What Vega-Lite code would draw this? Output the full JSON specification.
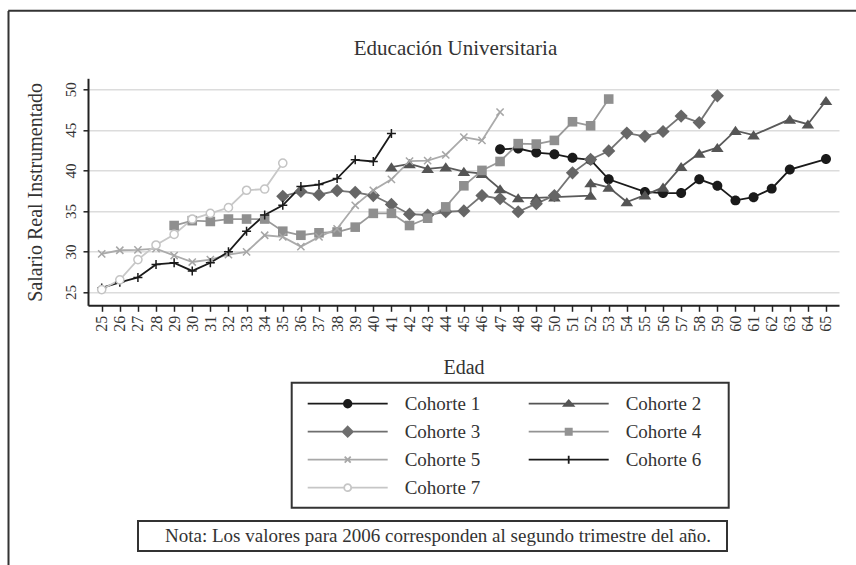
{
  "$schema": "https://vega.github.io/schema/vega-lite/v6.json",
  "width": 751,
  "height": 227,
  "autosize": {"type": "none"},
  "padding": {"left": 88, "top": 78.3, "right": 22, "bottom": 259.7},
  "background": "white",
  "config": {
    "view": {"stroke": null},
    "font": "Liberation Serif",
    "legend": {"strokeWidth": 2},
    "axis": {"labelFont": "Liberation Serif", "titleFont": "Liberation Serif"}
  },
  "data": {"values": [
    {"c":"Cohorte 1","age":47,"v":42.6,"i":1},{"c":"Cohorte 1","age":48,"v":42.7,"i":2},{"c":"Cohorte 1","age":49,"v":42.2,"i":3},{"c":"Cohorte 1","age":50,"v":42.0,"i":4},{"c":"Cohorte 1","age":51,"v":41.55,"i":5},{"c":"Cohorte 1","age":52,"v":41.3,"i":6},{"c":"Cohorte 1","age":53,"v":38.9,"i":7},{"c":"Cohorte 1","age":55,"v":37.35,"i":8},{"c":"Cohorte 1","age":56,"v":37.2,"i":9},{"c":"Cohorte 1","age":57,"v":37.2,"i":10},{"c":"Cohorte 1","age":58,"v":38.9,"i":11},{"c":"Cohorte 1","age":59,"v":38.1,"i":12},{"c":"Cohorte 1","age":60,"v":36.3,"i":13},{"c":"Cohorte 1","age":61,"v":36.7,"i":14},{"c":"Cohorte 1","age":62,"v":37.75,"i":15},{"c":"Cohorte 1","age":63,"v":40.1,"i":16},{"c":"Cohorte 1","age":65,"v":41.4,"i":17},
    {"c":"Cohorte 2","age":41,"v":40.4,"i":1},{"c":"Cohorte 2","age":42,"v":40.8,"i":2},{"c":"Cohorte 2","age":43,"v":40.2,"i":3},{"c":"Cohorte 2","age":44,"v":40.4,"i":4},{"c":"Cohorte 2","age":45,"v":39.85,"i":5},{"c":"Cohorte 2","age":46,"v":39.6,"i":6},{"c":"Cohorte 2","age":47,"v":37.7,"i":7},{"c":"Cohorte 2","age":48,"v":36.6,"i":8},{"c":"Cohorte 2","age":49,"v":36.6,"i":9},{"c":"Cohorte 2","age":50,"v":36.7,"i":10},{"c":"Cohorte 2","age":52,"v":36.9,"i":11},{"c":"Cohorte 2","age":52,"v":38.45,"i":12},{"c":"Cohorte 2","age":53,"v":37.9,"i":13},{"c":"Cohorte 2","age":54,"v":36.1,"i":14},{"c":"Cohorte 2","age":55,"v":36.95,"i":15},{"c":"Cohorte 2","age":56,"v":37.9,"i":16},{"c":"Cohorte 2","age":57,"v":40.45,"i":17},{"c":"Cohorte 2","age":58,"v":42.1,"i":18},{"c":"Cohorte 2","age":59,"v":42.8,"i":19},{"c":"Cohorte 2","age":60,"v":44.9,"i":20},{"c":"Cohorte 2","age":61,"v":44.35,"i":21},{"c":"Cohorte 2","age":63,"v":46.3,"i":22},{"c":"Cohorte 2","age":64,"v":45.7,"i":23},{"c":"Cohorte 2","age":65,"v":48.6,"i":24},
    {"c":"Cohorte 3","age":35,"v":36.8,"i":1},{"c":"Cohorte 3","age":36,"v":37.4,"i":2},{"c":"Cohorte 3","age":37,"v":37.0,"i":3},{"c":"Cohorte 3","age":38,"v":37.5,"i":4},{"c":"Cohorte 3","age":39,"v":37.3,"i":5},{"c":"Cohorte 3","age":40,"v":36.9,"i":6},{"c":"Cohorte 3","age":41,"v":35.8,"i":7},{"c":"Cohorte 3","age":42,"v":34.6,"i":8},{"c":"Cohorte 3","age":43,"v":34.5,"i":9},{"c":"Cohorte 3","age":44,"v":34.9,"i":10},{"c":"Cohorte 3","age":45,"v":35.0,"i":11},{"c":"Cohorte 3","age":46,"v":36.9,"i":12},{"c":"Cohorte 3","age":47,"v":36.5,"i":13},{"c":"Cohorte 3","age":48,"v":34.9,"i":14},{"c":"Cohorte 3","age":49,"v":35.9,"i":15},{"c":"Cohorte 3","age":50,"v":36.9,"i":16},{"c":"Cohorte 3","age":51,"v":39.7,"i":17},{"c":"Cohorte 3","age":52,"v":41.35,"i":18},{"c":"Cohorte 3","age":53,"v":42.4,"i":19},{"c":"Cohorte 3","age":54,"v":44.6,"i":20},{"c":"Cohorte 3","age":55,"v":44.2,"i":21},{"c":"Cohorte 3","age":56,"v":44.8,"i":22},{"c":"Cohorte 3","age":57,"v":46.7,"i":23},{"c":"Cohorte 3","age":58,"v":45.9,"i":24},{"c":"Cohorte 3","age":59,"v":49.2,"i":25},
    {"c":"Cohorte 4","age":29,"v":33.2,"i":1},{"c":"Cohorte 4","age":30,"v":33.8,"i":2},{"c":"Cohorte 4","age":31,"v":33.7,"i":3},{"c":"Cohorte 4","age":32,"v":34.0,"i":4},{"c":"Cohorte 4","age":33,"v":34.0,"i":5},{"c":"Cohorte 4","age":34,"v":34.0,"i":6},{"c":"Cohorte 4","age":35,"v":32.5,"i":7},{"c":"Cohorte 4","age":36,"v":32.0,"i":8},{"c":"Cohorte 4","age":37,"v":32.3,"i":9},{"c":"Cohorte 4","age":38,"v":32.4,"i":10},{"c":"Cohorte 4","age":39,"v":33.0,"i":11},{"c":"Cohorte 4","age":40,"v":34.7,"i":12},{"c":"Cohorte 4","age":41,"v":34.7,"i":13},{"c":"Cohorte 4","age":42,"v":33.2,"i":14},{"c":"Cohorte 4","age":43,"v":34.1,"i":15},{"c":"Cohorte 4","age":44,"v":35.5,"i":16},{"c":"Cohorte 4","age":45,"v":38.1,"i":17},{"c":"Cohorte 4","age":46,"v":40.0,"i":18},{"c":"Cohorte 4","age":47,"v":41.1,"i":19},{"c":"Cohorte 4","age":48,"v":43.3,"i":20},{"c":"Cohorte 4","age":49,"v":43.25,"i":21},{"c":"Cohorte 4","age":50,"v":43.7,"i":22},{"c":"Cohorte 4","age":51,"v":46.0,"i":23},{"c":"Cohorte 4","age":52,"v":45.5,"i":24},{"c":"Cohorte 4","age":53,"v":48.8,"i":25},
    {"c":"Cohorte 5","age":25,"v":29.7,"i":1},{"c":"Cohorte 5","age":26,"v":30.15,"i":2},{"c":"Cohorte 5","age":27,"v":30.2,"i":3},{"c":"Cohorte 5","age":28,"v":30.35,"i":4},{"c":"Cohorte 5","age":29,"v":29.5,"i":5},{"c":"Cohorte 5","age":30,"v":28.7,"i":6},{"c":"Cohorte 5","age":31,"v":29.0,"i":7},{"c":"Cohorte 5","age":32,"v":29.6,"i":8},{"c":"Cohorte 5","age":33,"v":29.95,"i":9},{"c":"Cohorte 5","age":34,"v":32.0,"i":10},{"c":"Cohorte 5","age":35,"v":31.8,"i":11},{"c":"Cohorte 5","age":36,"v":30.6,"i":12},{"c":"Cohorte 5","age":37,"v":31.8,"i":13},{"c":"Cohorte 5","age":38,"v":32.8,"i":14},{"c":"Cohorte 5","age":39,"v":35.7,"i":15},{"c":"Cohorte 5","age":40,"v":37.55,"i":16},{"c":"Cohorte 5","age":41,"v":38.9,"i":17},{"c":"Cohorte 5","age":42,"v":41.15,"i":18},{"c":"Cohorte 5","age":43,"v":41.2,"i":19},{"c":"Cohorte 5","age":44,"v":41.9,"i":20},{"c":"Cohorte 5","age":45,"v":44.1,"i":21},{"c":"Cohorte 5","age":46,"v":43.7,"i":22},{"c":"Cohorte 5","age":47,"v":47.2,"i":23},
    {"c":"Cohorte 6","age":25,"v":25.5,"i":1},{"c":"Cohorte 6","age":26,"v":26.2,"i":2},{"c":"Cohorte 6","age":27,"v":26.8,"i":3},{"c":"Cohorte 6","age":28,"v":28.4,"i":4},{"c":"Cohorte 6","age":29,"v":28.6,"i":5},{"c":"Cohorte 6","age":30,"v":27.6,"i":6},{"c":"Cohorte 6","age":31,"v":28.6,"i":7},{"c":"Cohorte 6","age":32,"v":29.95,"i":8},{"c":"Cohorte 6","age":33,"v":32.5,"i":9},{"c":"Cohorte 6","age":34,"v":34.5,"i":10},{"c":"Cohorte 6","age":35,"v":35.7,"i":11},{"c":"Cohorte 6","age":36,"v":38.0,"i":12},{"c":"Cohorte 6","age":37,"v":38.25,"i":13},{"c":"Cohorte 6","age":38,"v":39.0,"i":14},{"c":"Cohorte 6","age":39,"v":41.3,"i":15},{"c":"Cohorte 6","age":40,"v":41.1,"i":16},{"c":"Cohorte 6","age":41,"v":44.55,"i":17},
    {"c":"Cohorte 7","age":25,"v":25.3,"i":1},{"c":"Cohorte 7","age":26,"v":26.5,"i":2},{"c":"Cohorte 7","age":27,"v":29.0,"i":3},{"c":"Cohorte 7","age":28,"v":30.8,"i":4},{"c":"Cohorte 7","age":29,"v":32.1,"i":5},{"c":"Cohorte 7","age":30,"v":34.0,"i":6},{"c":"Cohorte 7","age":31,"v":34.7,"i":7},{"c":"Cohorte 7","age":32,"v":35.4,"i":8},{"c":"Cohorte 7","age":33,"v":37.55,"i":9},{"c":"Cohorte 7","age":34,"v":37.7,"i":10},{"c":"Cohorte 7","age":35,"v":40.9,"i":11}
  ]},
  "resolve": {
    "scale": {"shape": "independent", "color": "independent"},
    "legend": {"shape": "independent", "color": "independent"},
    "axis": {"x": "independent", "y": "independent"}
  },
  "layer": [
    {
      "mark": {"type": "line", "strokeWidth": 1.8},
      "encoding": {
        "x": {"field": "age", "type": "quantitative", "scale": {"domain": [24.243, 65.718], "nice": false, "zero": false},
          "axis": {"values": [25,26,27,28,29,30,31,32,33,34,35,36,37,38,39,40,41,42,43,44,45,46,47,48,49,50,51,52,53,54,55,56,57,58,59,60,61,62,63,64,65], "format": "d", "labelAngle": -90, "labelFontSize": 16, "labelColor": "#333333", "labelPadding": 4, "labelFlush": false, "labelOverlap": false, "labelBound": false, "tickSize": 6, "tickColor": "#222222", "tickWidth": 1.5, "domainColor": "#222222", "domainWidth": 2, "grid": false, "title": "Edad", "titleFontSize": 20, "titleFontWeight": "normal", "titleColor": "#333333", "titlePadding": 26}},
        "y": {"field": "v", "type": "quantitative", "scale": {"domain": [23.36, 51.36], "nice": false, "zero": false},
          "axis": {"values": [25,30,35,40,45,50], "labelAngle": -90, "labelFontSize": 15, "labelColor": "#333333", "labelPadding": 5, "tickSize": 5, "tickColor": "#222222", "tickWidth": 1.5, "domainColor": "#222222", "domainWidth": 2, "grid": true, "gridColor": "#dcdcdc", "gridWidth": 1.5, "title": "Salario Real Instrumentado", "titleFontSize": 20, "titleFontWeight": "normal", "titleColor": "#333333", "titlePadding": 18}},
        "color": {"field": "c", "type": "nominal", "scale": {"domain": ["Cohorte 1","Cohorte 2","Cohorte 3","Cohorte 4","Cohorte 5","Cohorte 6","Cohorte 7"], "range": ["#1a1a1a","#5a5a5a","#747474","#999999","#ababab","#1a1a1a","#c8c8c8"]}, "legend": null},
        "order": {"field": "i", "type": "quantitative"}
      }
    },
    {
      "transform": [{"filter": {"field": "c", "oneOf": ["Cohorte 1","Cohorte 2","Cohorte 3","Cohorte 4"]}}],
      "mark": {"type": "point", "filled": true, "opacity": 1, "size": 144, "strokeWidth": 0},
      "encoding": {
        "x": {"field": "age", "type": "quantitative", "axis": null},
        "y": {"field": "v", "type": "quantitative", "axis": null},
        "color": {"field": "c", "type": "nominal", "scale": {"domain": ["Cohorte 1","Cohorte 2","Cohorte 3","Cohorte 4","Cohorte 5","Cohorte 6","Cohorte 7"], "range": ["#1a1a1a","#555555","#666666","#8f8f8f","#a6a6a6","#1a1a1a","#c4c4c4"]}, "legend": null},
        "shape": {"field": "c", "type": "nominal", "scale": {"domain": ["Cohorte 1","Cohorte 2","Cohorte 3","Cohorte 4","Cohorte 5","Cohorte 6","Cohorte 7"], "range": ["M0.83,0A0.83,0.83,0,1,1,-0.83,0A0.83,0.83,0,1,1,0.83,0Z","M0,-0.8L1.05,0.72L-1.05,0.72Z","M0,-1.1L1.1,0L0,1.1L-1.1,0Z","M-0.8,-0.8L0.8,-0.8L0.8,0.8L-0.8,0.8Z","M-0.6,-0.6L0.6,0.6M-0.6,0.6L0.6,-0.6","M-0.75,0L0.75,0M0,-0.75L0,0.75","M0.68,0A0.68,0.68,0,1,1,-0.68,0A0.68,0.68,0,1,1,0.68,0Z"]}, "legend": null}
      }
    },
    {
      "transform": [{"filter": {"field": "c", "oneOf": ["Cohorte 5","Cohorte 6"]}}],
      "mark": {"type": "point", "filled": false, "opacity": 1, "size": 144, "strokeWidth": 1.5},
      "encoding": {
        "x": {"field": "age", "type": "quantitative", "axis": null},
        "y": {"field": "v", "type": "quantitative", "axis": null},
        "color": {"field": "c", "type": "nominal", "scale": {"domain": ["Cohorte 1","Cohorte 2","Cohorte 3","Cohorte 4","Cohorte 5","Cohorte 6","Cohorte 7"], "range": ["#1a1a1a","#555555","#666666","#8f8f8f","#a6a6a6","#1a1a1a","#c4c4c4"]}, "legend": null},
        "shape": {"field": "c", "type": "nominal", "scale": {"domain": ["Cohorte 1","Cohorte 2","Cohorte 3","Cohorte 4","Cohorte 5","Cohorte 6","Cohorte 7"], "range": ["M0.83,0A0.83,0.83,0,1,1,-0.83,0A0.83,0.83,0,1,1,0.83,0Z","M0,-0.8L1.05,0.72L-1.05,0.72Z","M0,-1.1L1.1,0L0,1.1L-1.1,0Z","M-0.8,-0.8L0.8,-0.8L0.8,0.8L-0.8,0.8Z","M-0.6,-0.6L0.6,0.6M-0.6,0.6L0.6,-0.6","M-0.75,0L0.75,0M0,-0.75L0,0.75","M0.68,0A0.68,0.68,0,1,1,-0.68,0A0.68,0.68,0,1,1,0.68,0Z"]}, "legend": null}
      }
    },
    {
      "transform": [{"filter": {"field": "c", "oneOf": ["Cohorte 7"]}}],
      "mark": {"type": "point", "filled": false, "fill": "white", "fillOpacity": 1, "opacity": 1, "size": 144, "strokeWidth": 1.5},
      "encoding": {
        "x": {"field": "age", "type": "quantitative", "axis": null},
        "y": {"field": "v", "type": "quantitative", "axis": null},
        "color": {"field": "c", "type": "nominal", "scale": {"domain": ["Cohorte 1","Cohorte 2","Cohorte 3","Cohorte 4","Cohorte 5","Cohorte 6","Cohorte 7"], "range": ["#1a1a1a","#555555","#666666","#8f8f8f","#a6a6a6","#1a1a1a","#c4c4c4"]}, "legend": null},
        "shape": {"field": "c", "type": "nominal", "scale": {"domain": ["Cohorte 1","Cohorte 2","Cohorte 3","Cohorte 4","Cohorte 5","Cohorte 6","Cohorte 7"], "range": ["M0.83,0A0.83,0.83,0,1,1,-0.83,0A0.83,0.83,0,1,1,0.83,0Z","M0,-0.8L1.05,0.72L-1.05,0.72Z","M0,-1.1L1.1,0L0,1.1L-1.1,0Z","M-0.8,-0.8L0.8,-0.8L0.8,0.8L-0.8,0.8Z","M-0.6,-0.6L0.6,0.6M-0.6,0.6L0.6,-0.6","M-0.75,0L0.75,0M0,-0.75L0,0.75","M0.68,0A0.68,0.68,0,1,1,-0.68,0A0.68,0.68,0,1,1,0.68,0Z"]}, "legend": null}
      }
    },
    {
      "mark": {"type": "point", "filled": false, "opacity": 0, "size": 10, "strokeWidth": 1.8},
      "encoding": {
        "x": {"field": "age", "type": "quantitative",
          "axis": {"orient": "top", "offset": 67.8, "domain": false, "labels": false, "grid": false, "ticks": true, "values": [24.3], "tickOffset": -81, "tickSize": -556, "tickWidth": 2, "tickColor": "#333333", "title": "Educación Universitaria", "titleFontSize": 21, "titleFontWeight": "normal", "titleColor": "#333333", "titleX": 367, "titleY": 43.8, "titleBaseline": "alphabetic", "titleAlign": "center", "titleAngle": 0}},
        "y": {"field": "v", "type": "quantitative",
          "axis": {"orient": "left", "offset": 80.3, "domain": false, "labels": false, "grid": false, "ticks": true, "values": [51.3], "tickOffset": -68.3, "tickSize": -850, "tickWidth": 2, "tickColor": "#333333", "title": null}},
        "color": {"field": "c", "type": "nominal", "scale": {"domain": ["Cohorte 1","Cohorte 2","Cohorte 3","Cohorte 4","Cohorte 5","Cohorte 6","Cohorte 7"], "range": ["#1a1a1a","#555555","#6e6e6e","#939393","#a8a8a8","#1a1a1a","#c6c6c6"]},
          "legend": {"title": null, "orient": "none", "legendX": 203.7, "legendY": 304.4, "direction": "horizontal", "columns": 2, "symbolSize": 400, "symbolStrokeWidth": 1.8, "symbolOpacity": 1, "labelFont": "Liberation Serif", "labelFontSize": 19, "labelColor": "#333333", "labelOffset": 81, "columnPadding": 25, "rowPadding": 7, "padding": 10, "strokeColor": "#333333"}},
        "shape": {"field": "c", "type": "nominal", "scale": {"domain": ["Cohorte 1","Cohorte 2","Cohorte 3","Cohorte 4","Cohorte 5","Cohorte 6","Cohorte 7"], "range": [
            "M-0.5,0L7.5,0M3.88,0A0.38,0.38,0,1,1,3.12,0A0.38,0.38,0,1,1,3.88,0M3.74,0A0.24,0.24,0,1,1,3.26,0A0.24,0.24,0,1,1,3.74,0M3.6,0A0.1,0.1,0,1,1,3.4,0A0.1,0.1,0,1,1,3.6,0M18.1,0L18.1,0",
            "M-0.5,0L7.5,0M3.5,-0.34L3.98,0.22L3.02,0.22ZM3.5,-0.15L3.74,0.13L3.26,0.13ZM3.46,0.04L3.54,0.04M18.1,0L18.1,0",
            "M-0.5,0L7.5,0M3.5,-0.51L4.01,0L3.5,0.51L2.99,0ZM3.5,-0.36L3.86,0L3.5,0.36L3.14,0ZM3.5,-0.21L3.71,0L3.5,0.21L3.29,0ZM3.5,-0.06L3.56,0L3.5,0.06L3.44,0ZM18.1,0L18.1,0",
            "M-0.5,0L7.5,0M3.19,-0.31L3.81,-0.31L3.81,0.31L3.19,0.31ZM3.32,-0.18L3.68,-0.18L3.68,0.18L3.32,0.18ZM3.45,-0.05L3.55,-0.05L3.55,0.05L3.45,0.05ZM18.1,0L18.1,0",
            "M-0.5,0L7.5,0M3.2,-0.3L3.8,0.3M3.2,0.3L3.8,-0.3M18.1,0L18.1,0",
            "M-0.5,0L7.5,0M3.5,-0.4L3.5,0.4M18.1,0L18.1,0",
            "M-0.5,0L3.15,0M3.85,0L7.5,0M3.85,0A0.35,0.35,0,1,1,3.15,0A0.35,0.35,0,1,1,3.85,0M18.1,0L18.1,0"]},
          "legend": {"title": null, "orient": "none", "legendX": 203.7, "legendY": 304.4, "direction": "horizontal", "columns": 2, "symbolSize": 400, "symbolStrokeWidth": 1.8, "symbolOpacity": 1, "labelFont": "Liberation Serif", "labelFontSize": 19, "labelColor": "#333333", "labelOffset": 81, "columnPadding": 25, "rowPadding": 7, "padding": 10, "strokeColor": "#333333"}}
      }
    },
    {
      "data": {"values": [{"nota": "Nota: Los valores para 2006 corresponden al segundo trimestre del año."}]},
      "mark": {"type": "point", "opacity": 0},
      "encoding": {
        "shape": {"field": "nota", "type": "nominal", "scale": {"range": ["M-1,0L94.8,0"]},
          "legend": {"title": null, "orient": "none", "legendX": 50, "legendY": 442.7, "symbolOpacity": 0, "symbolSize": 144, "labelOffset": 3, "padding": 5, "labelFont": "Liberation Serif", "labelFontSize": 19, "labelColor": "#333333", "labelLimit": 1000, "strokeColor": "#333333"}}
      }
    }
  ]
}
